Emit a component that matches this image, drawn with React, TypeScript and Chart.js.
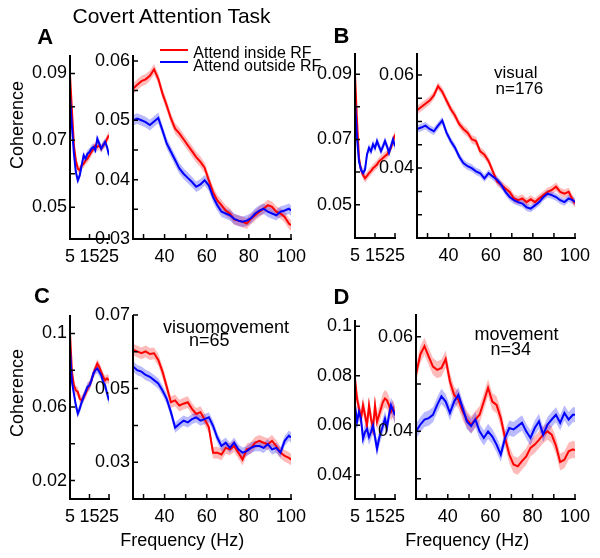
import React, { useEffect, useRef } from 'react';
import { Chart, registerables } from 'chart.js';

Chart.register(...registerables);

const FONT = 'Arial, "Liberation Sans", Helvetica, sans-serif';
const RED = '#ff0000';
const BLUE = '#0000ff';
const RED_BAND = 'rgba(255,0,0,0.27)';
const BLUE_BAND = 'rgba(0,0,255,0.27)';

// ---- frequencies (Hz) ----
const freqLow = [5, 6, 7, 8, 9, 10, 11, 12, 13, 14, 15, 16, 17, 18, 19, 20, 21, 22, 23, 24, 25];
const freqHigh = [25, 27, 29, 31, 33, 35, 37, 39, 41, 43, 45, 47, 49, 51, 53, 55, 57, 59, 61, 63,
  65, 67, 69, 71, 73, 75, 77, 79, 81, 83, 85, 87, 89, 91, 93, 95, 97, 99, 100];

// ---- tick values / labels ----
const lowXTicks = [5, 15, 25];
const lowXLabels = ['5', '15', '25'];
const highXTicks = [30, 40, 50, 60, 70, 80, 90, 100];
const highXLabels = ['', '40', '', '60', '', '80', '', '100'];

const aLowYTicks = [0.05, 0.06, 0.07, 0.08, 0.09];
const aLowYLabels = ['0.05', '', '0.07', '', '0.09'];
const aHighYTicks = [0.03, 0.035, 0.04, 0.045, 0.05, 0.055, 0.06];
const aHighYLabels = ['0.03', '', '0.04', '', '0.05', '', '0.06'];
const bLowYTicks = [0.05, 0.06, 0.07, 0.08, 0.09];
const bLowYLabels = ['0.05', '', '0.07', '', '0.09'];
const bHighYTicks = [0.03, 0.035, 0.04, 0.045, 0.05, 0.055, 0.06];
const bHighYLabels = ['', '', '0.04', '', '', '', '0.06'];
const cLowYTicks = [0.02, 0.04, 0.06, 0.08, 0.1];
const cLowYLabels = ['0.02', '', '0.06', '', '0.1'];
const cHighYTicks = [0.03, 0.04, 0.05, 0.06, 0.07];
const cHighYLabels = ['0.03', '', '0.05', '', '0.07'];
const dLowYTicks = [0.04, 0.06, 0.08, 0.1];
const dLowYLabels = ['0.04', '0.06', '0.08', '0.1'];
const dHighYTicks = [0.03, 0.04, 0.05, 0.06];
const dHighYLabels = ['', '0.04', '', '0.06'];

// ---- A: all cells ----
const aLowInside = [0.0895, 0.079, 0.0685, 0.064, 0.0615, 0.061, 0.0625, 0.063, 0.064, 0.0645, 0.0655, 0.0665, 0.0675, 0.0685, 0.068, 0.0685, 0.0675, 0.0685, 0.069, 0.0705, 0.0715];
const aLowOutside = [0.0835, 0.074, 0.066, 0.0605, 0.058, 0.0595, 0.0625, 0.0655, 0.0645, 0.066, 0.0665, 0.0675, 0.068, 0.067, 0.0705, 0.069, 0.0675, 0.0685, 0.0695, 0.068, 0.0655];
const aHighInside = [0.0553, 0.0560, 0.0566, 0.0569, 0.0575, 0.0586, 0.0570, 0.0545, 0.0525, 0.0503,
  0.0486, 0.0478, 0.0468, 0.0458, 0.0448, 0.0438, 0.0430, 0.0420, 0.0399, 0.0379,
  0.0365, 0.0357, 0.0348, 0.0343, 0.0333, 0.0331, 0.0329, 0.0326, 0.0334, 0.0340,
  0.0346, 0.0351, 0.0357, 0.0354, 0.0346, 0.0343, 0.0337, 0.0326, 0.0323];
const aHighOutside = [0.0500, 0.0503, 0.0500, 0.0497, 0.0492, 0.0498, 0.0504, 0.0483, 0.0461, 0.0447,
  0.0433, 0.0419, 0.0410, 0.0403, 0.0396, 0.0388, 0.0392, 0.0399, 0.0390, 0.0371,
  0.0357, 0.0346, 0.0343, 0.0340, 0.0334, 0.0331, 0.0329, 0.0331, 0.0335, 0.0343,
  0.0348, 0.0351, 0.0346, 0.0343, 0.0340, 0.0346, 0.0348, 0.0351, 0.0348];
const aLowSem = [0.0012, 0.0012]; // [inside, outside]
const aHighSem = [0.0009, 0.0009];

// ---- B: visual ----
const bLowInside = [0.090, 0.0757, 0.0643, 0.0607, 0.0592, 0.0581, 0.0588, 0.0597, 0.0603, 0.0612, 0.0617, 0.0623, 0.0633, 0.0638, 0.0643, 0.0649, 0.0654, 0.0664, 0.0674, 0.0695, 0.0715];
const bLowOutside = [0.0819, 0.0705, 0.0633, 0.0607, 0.0597, 0.0607, 0.0654, 0.0674, 0.0664, 0.0685, 0.0674, 0.0695, 0.0679, 0.0664, 0.0679, 0.0695, 0.0679, 0.0659, 0.068, 0.07, 0.0679];
const bHighInside = [0.0524, 0.0531, 0.0538, 0.0545, 0.0556, 0.0576, 0.0564, 0.0545, 0.0527, 0.0513,
  0.0495, 0.0484, 0.0476, 0.0462, 0.0458, 0.0436, 0.0429, 0.0415, 0.0393, 0.0371,
  0.0364, 0.0356, 0.0349, 0.0335, 0.0331, 0.0335, 0.0327, 0.0333, 0.0327, 0.0335,
  0.0342, 0.0349, 0.0353, 0.0360, 0.0349, 0.0345, 0.0349, 0.0331, 0.0324];
const bHighOutside = [0.0484, 0.0487, 0.0491, 0.0484, 0.0479, 0.0491, 0.0502, 0.0476, 0.0458, 0.0444,
  0.0425, 0.0411, 0.0404, 0.0400, 0.0393, 0.0389, 0.0378, 0.0389, 0.0382, 0.0375,
  0.0364, 0.0349, 0.0338, 0.0331, 0.0327, 0.0324, 0.0316, 0.0313, 0.0320, 0.0327,
  0.0338, 0.0345, 0.0342, 0.0338, 0.0331, 0.0327, 0.0335, 0.0331, 0.0327];
const bLowSem = [0.0013, 0.0013];
const bHighSem = [0.0009, 0.0008];

// ---- C: visuomovement ----
const cLowInside = [0.1, 0.0791, 0.0718, 0.0691, 0.0682, 0.0645, 0.0636, 0.0655, 0.0673, 0.07, 0.0718, 0.0745, 0.0782, 0.0809, 0.0836, 0.0818, 0.0791, 0.0764, 0.0745, 0.0755, 0.0745];
const cLowOutside = [0.0918, 0.0736, 0.0673, 0.0609, 0.0564, 0.0591, 0.0627, 0.0655, 0.0682, 0.0709, 0.0718, 0.0745, 0.0782, 0.08, 0.0809, 0.0791, 0.0773, 0.0736, 0.0718, 0.0673, 0.0636];
const cHighInside = [0.0606, 0.0601, 0.0596, 0.0601, 0.0594, 0.0596, 0.0578, 0.0546, 0.0505, 0.0463,
  0.0468, 0.0454, 0.0459, 0.0463, 0.0445, 0.0431, 0.0436, 0.0417, 0.0395, 0.0326,
  0.0326, 0.0321, 0.0339, 0.0335, 0.0344, 0.0326, 0.0307, 0.0335, 0.0339, 0.0353,
  0.0358, 0.0353, 0.0349, 0.0358, 0.0344, 0.0326, 0.0317, 0.0312, 0.0307];
const cHighOutside = [0.0560, 0.0550, 0.0546, 0.0537, 0.0532, 0.0523, 0.0514, 0.0495, 0.0472, 0.0436,
  0.0394, 0.0404, 0.0413, 0.0408, 0.0417, 0.0422, 0.0413, 0.0417, 0.0422, 0.0399,
  0.0367, 0.0344, 0.0353, 0.0339, 0.0353, 0.0335, 0.0326, 0.0330, 0.0339, 0.0344,
  0.0344, 0.0339, 0.0349, 0.0335, 0.0339, 0.0326, 0.0358, 0.0372, 0.0367];
const cLowSem = [0.0025, 0.0025];
const cHighSem = [0.0016, 0.0014];

// ---- D: movement ----
const dLowInside = [0.0789, 0.0708, 0.0668, 0.0627, 0.0681, 0.0641, 0.06, 0.0681, 0.0627, 0.0586, 0.0681, 0.0614, 0.0641, 0.0668, 0.0695, 0.0708, 0.0701, 0.0681, 0.0654, 0.0668, 0.0641];
const dLowOutside = [0.0681, 0.0614, 0.0654, 0.0627, 0.0546, 0.0573, 0.0586, 0.0553, 0.0573, 0.06, 0.0553, 0.0505, 0.0546, 0.0573, 0.06, 0.0627, 0.0593, 0.0641, 0.0681, 0.0661, 0.0641];
const dHighInside = [0.0520, 0.0562, 0.0580, 0.0558, 0.0537, 0.0530, 0.0534, 0.0553, 0.0506, 0.0477,
  0.0467, 0.0442, 0.0425, 0.0414, 0.0425, 0.0435, 0.0463, 0.0492, 0.0463, 0.0456,
  0.0428, 0.0386, 0.0351, 0.0330, 0.0326, 0.0337, 0.0347, 0.0365, 0.0372, 0.0382,
  0.0393, 0.0400, 0.0393, 0.0370, 0.0335, 0.0340, 0.0358, 0.0362, 0.0360];
const dHighOutside = [0.0400, 0.0414, 0.0425, 0.0428, 0.0435, 0.0456, 0.0474, 0.0463, 0.0439, 0.0463,
  0.0477, 0.0449, 0.0421, 0.0411, 0.0425, 0.0400, 0.0386, 0.0400, 0.0389, 0.0372,
  0.0351, 0.0386, 0.0407, 0.0404, 0.0411, 0.0418, 0.0400, 0.0386, 0.0407, 0.0421,
  0.0393, 0.0414, 0.0425, 0.0435, 0.0418, 0.0439, 0.0425, 0.0435, 0.0435];
const dLowSem = [0.0035, 0.0032];
const dHighSem = [0.0018, 0.0016];

type Sub = {
  box: [number, number, number, number]; // plot area left, top, right, bottom (px)
  xRange: [number, number];
  yRange: [number, number];
  xTicks: number[]; xLabels: string[];
  yTicks: number[]; yLabels: string[];
  freq: number[]; inside: number[]; outside: number[]; sem: number[];
};

const subs: Sub[] = [
  { box: [70, 55, 109, 239], xRange: [5, 25], yRange: [0.0405, 0.0955], xTicks: lowXTicks, xLabels: lowXLabels, yTicks: aLowYTicks, yLabels: aLowYLabels, freq: freqLow, inside: aLowInside, outside: aLowOutside, sem: aLowSem },
  { box: [133, 55, 291, 239], xRange: [25, 100], yRange: [0.03, 0.061], xTicks: highXTicks, xLabels: highXLabels, yTicks: aHighYTicks, yLabels: aHighYLabels, freq: freqHigh, inside: aHighInside, outside: aHighOutside, sem: aHighSem },
  { box: [355, 53, 395, 238], xRange: [5, 25], yRange: [0.0398, 0.0965], xTicks: lowXTicks, xLabels: lowXLabels, yTicks: bLowYTicks, yLabels: bLowYLabels, freq: freqLow, inside: bLowInside, outside: bLowOutside, sem: bLowSem },
  { box: [417, 53, 575, 238], xRange: [25, 100], yRange: [0.025, 0.0647], xTicks: highXTicks, xLabels: highXLabels, yTicks: bHighYTicks, yLabels: bHighYLabels, freq: freqHigh, inside: bHighInside, outside: bHighOutside, sem: bHighSem },
  { box: [70, 315, 109, 499], xRange: [5, 25], yRange: [0.01, 0.11], xTicks: lowXTicks, xLabels: lowXLabels, yTicks: cLowYTicks, yLabels: cLowYLabels, freq: freqLow, inside: cLowInside, outside: cLowOutside, sem: cLowSem },
  { box: [133, 315, 291, 499], xRange: [25, 100], yRange: [0.02, 0.07], xTicks: highXTicks, xLabels: highXLabels, yTicks: cHighYTicks, yLabels: cHighYLabels, freq: freqHigh, inside: cHighInside, outside: cHighOutside, sem: cHighSem },
  { box: [355, 320, 395, 499], xRange: [5, 25], yRange: [0.0303, 0.1025], xTicks: lowXTicks, xLabels: lowXLabels, yTicks: dLowYTicks, yLabels: dLowYLabels, freq: freqLow, inside: dLowInside, outside: dLowOutside, sem: dLowSem },
  { box: [416, 314, 575, 499], xRange: [25, 100], yRange: [0.0257, 0.0648], xTicks: highXTicks, xLabels: highXLabels, yTicks: dHighYTicks, yLabels: dHighYLabels, freq: freqHigh, inside: dHighInside, outside: dHighOutside, sem: dHighSem },
];

const matlabAxes = {
  id: 'matlabAxes',
  afterDraw(chart: any) {
    const { ctx, chartArea: a, scales } = chart;
    ctx.save();
    ctx.strokeStyle = '#000';
    ctx.lineWidth = 2;
    ctx.lineCap = 'butt';
    ctx.beginPath();
    ctx.moveTo(a.left, a.top);
    ctx.lineTo(a.left, a.bottom);
    ctx.lineTo(a.right + 1, a.bottom);
    ctx.stroke();
    ctx.lineWidth = 1.5;
    ctx.beginPath();
    for (const t of scales.x.ticks) {
      const x = scales.x.getPixelForValue(t.value);
      ctx.moveTo(x, a.bottom);
      ctx.lineTo(x, a.bottom - 5);
    }
    for (const t of scales.y.ticks) {
      const y = scales.y.getPixelForValue(t.value);
      ctx.moveTo(a.left, y);
      ctx.lineTo(a.left + 5, y);
    }
    ctx.stroke();
    ctx.restore();
  },
};

function SubPlot({ s }: { s: Sub }) {
  const ref = useRef<HTMLCanvasElement>(null);
  useEffect(() => {
    const [L, T, R, B] = s.box;
    const pts = (vals: number[], off: number) => s.freq.map((f, i) => ({ x: f, y: vals[i] + off }));
    const tickFont = { family: FONT, size: 18 };
    const chart = new Chart(ref.current as HTMLCanvasElement, {
      type: 'line',
      data: {
        datasets: [
          { data: pts(s.outside, 0), borderColor: BLUE, borderWidth: 2, pointRadius: 0, fill: false, order: 0 },
          { data: pts(s.inside, 0), borderColor: RED, borderWidth: 2, pointRadius: 0, fill: false, order: 1 },
          { data: pts(s.outside, s.sem[1]), borderColor: 'transparent', borderWidth: 0, pointRadius: 0, backgroundColor: BLUE_BAND, fill: 3, order: 2 },
          { data: pts(s.outside, -s.sem[1]), borderColor: 'transparent', borderWidth: 0, pointRadius: 0, fill: false, order: 2 },
          { data: pts(s.inside, s.sem[0]), borderColor: 'transparent', borderWidth: 0, pointRadius: 0, backgroundColor: RED_BAND, fill: 5, order: 3 },
          { data: pts(s.inside, -s.sem[0]), borderColor: 'transparent', borderWidth: 0, pointRadius: 0, fill: false, order: 3 },
        ] as any,
      },
      options: {
        responsive: false,
        animation: false,
        devicePixelRatio: 1,
        events: [],
        layout: { padding: { left: 0, top: T, right: 600 - R, bottom: 0 } },
        elements: { line: { tension: 0 } },
        plugins: { legend: { display: false }, tooltip: { enabled: false } },
        scales: {
          x: {
            type: 'linear', min: s.xRange[0], max: s.xRange[1], bounds: 'data',
            grid: { display: false, drawTicks: false }, border: { display: false },
            ticks: {
              autoSkip: false, maxRotation: 0, minRotation: 0, padding: 7, color: '#000', font: tickFont,
              callback: (_v: any, i: number) => s.xLabels[i] ?? '',
            },
            afterBuildTicks: (sc: any) => { sc.ticks = s.xTicks.map((v) => ({ value: v })); },
            afterFit: (sc: any) => { sc.height = 558 - B; },
          },
          y: {
            type: 'linear', min: s.yRange[0], max: s.yRange[1], bounds: 'data',
            grid: { display: false, drawTicks: false }, border: { display: false },
            ticks: {
              autoSkip: false, padding: 3, color: '#000', font: tickFont,
              callback: (_v: any, i: number) => s.yLabels[i] ?? '',
            },
            afterBuildTicks: (sc: any) => { sc.ticks = s.yTicks.map((v) => ({ value: v })); },
            afterFit: (sc: any) => { sc.width = L; },
          },
        } as any,
      },
      plugins: [matlabAxes],
    });
    return () => chart.destroy();
  }, [s]);
  return <canvas ref={ref} width={600} height={558} style={{ position: 'absolute', left: 0, top: 0 }} />;
}

function Txt({ x, base, size, bold, children }: { x: number; base: number; size: number; bold?: boolean; children: React.ReactNode }) {
  return (
    <div style={{
      position: 'absolute', left: x, top: base - 0.8465 * size, fontSize: size, lineHeight: `${size}px`,
      fontWeight: bold ? 700 : 400, whiteSpace: 'nowrap',
    }}>{children}</div>
  );
}

function VTxt({ cx, cy, size, children }: { cx: number; cy: number; size: number; children: React.ReactNode }) {
  return (
    <div style={{
      position: 'absolute', left: cx, top: cy, fontSize: size, lineHeight: `${size}px`, whiteSpace: 'nowrap',
      transform: 'translate(-50%, -50%) rotate(-90deg)',
    }}>{children}</div>
  );
}

function Swatch({ x, y, w, color }: { x: number; y: number; w: number; color: string }) {
  return <div style={{ position: 'absolute', left: x, top: y - 1, width: w, height: 2, background: color }} />;
}

export default function App() {
  return (
    <div style={{
      position: 'fixed', left: 0, top: 0, width: 600, height: 558, background: '#fff', overflow: 'hidden',
      fontFamily: FONT, color: '#000',
    }}>
      {subs.map((s, i) => <SubPlot key={i} s={s} />)}
      <Txt x={72.5} base={22.7} size={21}>Covert Attention Task</Txt>
      <Txt x={37.3} base={45} size={22} bold>A</Txt>
      <Txt x={333.5} base={44} size={22} bold>B</Txt>
      <Txt x={34} base={304} size={22} bold>C</Txt>
      <Txt x={333.5} base={305} size={22} bold>D</Txt>
      <VTxt cx={17} cy={125} size={18}>Coherence</VTxt>
      <VTxt cx={17} cy={393} size={18}>Coherence</VTxt>
      <Txt x={120.3} base={546.7} size={18}>Frequency (Hz)</Txt>
      <Txt x={405.3} base={546.7} size={18}>Frequency (Hz)</Txt>
      <Swatch x={160} y={49.7} w={28.3} color={RED} />
      <Swatch x={160} y={62} w={28.3} color={BLUE} />
      <Txt x={193.3} base={58.7} size={16}>Attend inside RF</Txt>
      <Txt x={193.3} base={71.3} size={16}>Attend outside RF</Txt>
      <Txt x={494} base={78.5} size={17}>visual</Txt>
      <Txt x={495.5} base={94.5} size={17}>n=176</Txt>
      <Txt x={163} base={333.3} size={18}>visuomovement</Txt>
      <Txt x={189} base={346.7} size={18}>n=65</Txt>
      <Txt x={474.5} base={340} size={18}>movement</Txt>
      <Txt x={490.5} base={355} size={18}>n=34</Txt>
    </div>
  );
}
